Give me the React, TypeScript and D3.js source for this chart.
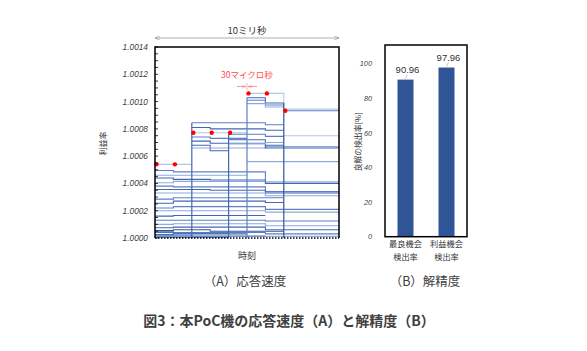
import React from "react";
import * as d3 from "d3";

// profit-rate lines, values are (rate - 1) x 1e-4, steps = [time, value]
const lines = [
  { c: 0, end: 2, steps: [[0, 5.4]] },
  { c: 2, end: 10, steps: [[0, 4.95], [1, 4.85], [6, 4.1]] },
  { c: 1, end: 5, steps: [[0, 4.6]] },
  { c: 3, end: 10, steps: [[0, 4.4], [1, 4.3], [3, 4.25], [6, 4.0]] },
  { c: 1, end: 6, steps: [[0, 4.05], [1, 4.15]] },
  { c: 2, end: 10, steps: [[0, 3.8], [1, 3.75], [6, 3.4]] },
  { c: 3, end: 10, steps: [[0, 3.55], [3, 3.5], [6, 3.3]] },
  { c: 1, end: 10, steps: [[0, 3.3], [6, 3.1]] },
  { c: 2, end: 7, steps: [[0, 2.85], [1, 2.95]] },
  { c: 3, end: 7, steps: [[0, 2.55], [1, 2.7], [6, 2.6]] },
  { c: 2, end: 10, steps: [[0, 2.2], [1, 2.3], [6, 2.1]] },
  { c: 1, end: 10, steps: [[0, 2.0], [6, 1.9]] },
  { c: 3, end: 6, steps: [[0, 1.6], [1, 1.65]] },
  { c: 2, end: 10, steps: [[0, 1.3], [6, 1.25]] },
  { c: 1, end: 10, steps: [[0, 1.0], [1, 1.05], [6, 0.9]] },
  { c: 3, end: 10, steps: [[0, 0.75], [1, 0.8], [6, 0.6]] },
  { c: 4, end: 7, steps: [[0, 0.55], [1, 0.6], [3, 0.5]] },
  { c: 2, end: 10, steps: [[0, 0.4], [6, 0.3]] },
  { c: 3, end: 5, steps: [[0, 0.25], [1, 0.3]] },
  { c: 1, end: 10, steps: [[0, 0.12]] },
  { c: 4, end: 4, steps: [[0, 0.05]] },
  { c: 3, end: 4, steps: [[0, 0.45], [1, 0.35]] },
  { c: 2, end: 6, steps: [[0, 0.2], [2, 0.15]] },
  { c: 2, end: 7, steps: [[2, 8.45], [6, 8.3]] },
  { c: 3, end: 7, steps: [[2, 8.1], [3, 8.0], [6, 7.9]] },
  { c: 0, end: 5, steps: [[2, 7.72]] },
  { c: 2, end: 5, steps: [[2, 7.4], [3, 7.3]] },
  { c: 3, end: 7, steps: [[2, 7.1], [3, 6.95], [6, 6.8]] },
  { c: 3, end: 4, steps: [[2, 6.8], [3, 6.4]] },
  { c: 1, end: 10, steps: [[2, 6.6], [6, 6.7]] },
  { c: 2, end: 7, steps: [[4, 7.6], [6, 7.45]] },
  { c: 3, end: 10, steps: [[4, 7.2], [6, 6.6]] },
  { c: 1, end: 7, steps: [[4, 6.9], [6, 7.0]] },
  { c: 0, end: 10, steps: [[5, 10.6], [7, 9.45]] },
  { c: 3, end: 7, steps: [[5, 10.28], [6, 9.9]] },
  { c: 2, end: 7, steps: [[5, 10.1], [6, 9.75]] },
  { c: 1, end: 7, steps: [[5, 9.85], [6, 9.6]] },
  { c: 1, end: 10, steps: [[5, 5.6]] },
  { c: 2, end: 10, steps: [[7, 9.33]] },
  { c: 0, end: 10, steps: [[7, 7.5]] },
];

// vertical start edges: [time, top, shade]
const starts = [[2, 8.45, 3], [4, 7.6, 3], [5, 10.28, 2], [7, 9.9, 4]];

// best value found at each time step
const bestPoints = [[0, 5.4], [1, 5.4], [2, 7.72], [3, 7.72], [4, 7.72], [5, 10.6], [6, 10.6], [7, 9.33]];

const rateTicks = [0, 2, 4, 6, 8, 10, 12, 14];

const categories = ["最良機会\n検出率", "利益機会\n検出率"];
const detectRates = [90.96, 97.96];
const pctTicks = [0, 20, 40, 60, 80, 100];

const shades = ["#b4c6e7", "#8eaadb", "#5e80c6", "#4368b1", "#2f5597"];
const jp = "'Noto Sans CJK JP', sans-serif";
const num = "'Liberation Sans', sans-serif";

export default function App() {
  const x = d3.scaleLinear().domain([0, 10]).range([155, 339]);
  const y = d3.scaleLinear().domain([0, 14]).range([238, 47]);
  const stepLine = d3.line<number[]>()
    .x((d) => x(d[0]))
    .y((d) => y(d[1]))
    .curve(d3.curveStepAfter);

  const bx = d3.scaleBand().domain(categories).range([385, 467]).paddingInner(0.61).paddingOuter(0.305);
  const by = d3.scaleLinear().domain([0, 111]).range([236.7, 45]);

  const minor = d3.range(0, 14.01, 0.5);

  return (
    <svg width={587} height={351} style={{ position: "absolute", left: 0, top: 0, background: "#fff" }}>
      <defs>
        <marker id="ah" viewBox="0 0 10 10" refX="10" refY="5" markerWidth="6" markerHeight="6" orient="auto-start-reverse">
          <path d="M0,1 L10,5 L0,9" fill="none" stroke="#888" strokeWidth="1.2" />
        </marker>
        <marker id="rh" viewBox="0 0 10 10" refX="10" refY="5" markerWidth="5" markerHeight="5" orient="auto">
          <path d="M0,1 L10,5 L0,9" fill="none" stroke="#f08080" strokeWidth="1.2" />
        </marker>
      </defs>

      {/* 10 ms span */}
      <line x1={x(0)} x2={x(10)} y1={38} y2={38} stroke="#999" strokeWidth={0.8}
        markerStart="url(#ah)" markerEnd="url(#ah)" />
      <text x={x(5)} y={34} textAnchor="middle" fontFamily={jp} fontSize={9.5} fill="#333">10ミリ秒</text>

      {/* lines */}
      {lines.map((l, i) => (
        <path key={i} d={stepLine([...l.steps, [l.end, l.steps[l.steps.length - 1][1]]]) || ""}
          fill="none" stroke={shades[l.c]} strokeWidth={1.1} />
      ))}
      {starts.map((s, i) => (
        <line key={i} x1={x(s[0])} x2={x(s[0])} y1={y(0)} y2={y(s[1])} stroke={shades[s[2]]} strokeWidth={1.2} />
      ))}
      {bestPoints.map((p, i) => (
        <circle key={i} cx={x(p[0]) + 1.5} cy={y(p[1])} r={2.2} fill="#f00" />
      ))}

      {/* 30 us annotation */}
      <text x={x(5)} y={78} textAnchor="middle" fontFamily={jp} fontSize={8.5} fill="#ff4d4d">30マイクロ秒</text>
      <line x1={x(5) - 10} x2={x(5) - 1} y1={86.5} y2={86.5} stroke="#f08080" strokeWidth={0.8} markerEnd="url(#rh)" />
      <line x1={x(5) + 10} x2={x(5) + 1} y1={86.5} y2={86.5} stroke="#f08080" strokeWidth={0.8} markerEnd="url(#rh)" />
      <line x1={x(5)} x2={x(5)} y1={83} y2={90} stroke="#f08080" strokeWidth={0.6} />

      {/* frame A */}
      <path d={`M${x(0)},${y(0)} V${y(14)} H${x(10)} V${y(0)}`} fill="none" stroke="#000" strokeWidth={1.5} />
      <line x1={x(0)} x2={x(10)} y1={y(0)} y2={y(0)} stroke="#000" strokeWidth={1.5} strokeDasharray="1.5,1.5" />
      {minor.map((t) => (
        <line key={t} x1={x(0)} x2={x(0) + 3} y1={y(t)} y2={y(t)} stroke="#000" strokeWidth={0.8} />
      ))}
      {rateTicks.map((t) => (
        <text key={t} x={148} y={y(t) + 3} textAnchor="end" fontFamily={num} fontStyle="italic" fontSize={8.3} fill="#404040">
          {(1 + t / 1e4).toFixed(4)}
        </text>
      ))}
      <text transform={`translate(106,${y(7) + 1}) rotate(-90)`} textAnchor="middle" fontFamily={jp} fontSize={8} fill="#333">利益率</text>
      <text x={x(5)} y={259} textAnchor="middle" fontFamily={jp} fontSize={9} fill="#333">時刻</text>

      {/* chart B */}
      {categories.map((c, i) => (
        <g key={c}>
          <rect x={bx(c)} y={by(detectRates[i])} width={bx.bandwidth()} height={by(0) - by(detectRates[i])} fill="#2f5597" />
          <line x1={(bx(c) as number) + bx.bandwidth() / 2} x2={(bx(c) as number) + bx.bandwidth() / 2 + 2}
            y1={by(detectRates[i]) - 1} y2={by(detectRates[i]) - 5} stroke="#aaa" strokeWidth={0.6} />
          <text x={(bx(c) as number) + bx.bandwidth() / 2 + 2} y={by(detectRates[i]) - 7} textAnchor="middle"
            fontFamily={num} fontSize={9.5} fill="#333">{detectRates[i].toFixed(2)}</text>
          {c.split("\n").map((s, j) => (
            <text key={j} x={(bx(c) as number) + bx.bandwidth() / 2} y={247 + j * 12.5} textAnchor="middle"
              fontFamily={jp} fontSize={8.2} fill="#333">{s}</text>
          ))}
        </g>
      ))}
      <rect x={385} y={by(111)} width={82} height={by(0) - by(111)} fill="none" stroke="#000" strokeWidth={1.5} />
      {pctTicks.map((t) => (
        <text key={t} x={372} y={by(t) + 2.5} textAnchor="end" fontFamily={num} fontStyle="italic" fontSize={7.3} fill="#404040">{t}</text>
      ))}
      <text transform={`translate(361,${by(55)}) rotate(-90)`} textAnchor="middle" fontFamily={jp} fontSize={7.8} fill="#333">良解の検出率[%]</text>

      {/* captions */}
      <text x={245} y={286} textAnchor="middle" fontFamily={jp} fontSize={12.5} fill="#404040">（A）応答速度</text>
      <text x={425} y={286} textAnchor="middle" fontFamily={jp} fontSize={12.5} fill="#404040">（B）解精度</text>
      <text x={289} y={326} textAnchor="middle" fontFamily={jp} fontSize={14} fontWeight="bold" fill="#404040">図3：本PoC機の応答速度（A）と解精度（B）</text>
    </svg>
  );
}
